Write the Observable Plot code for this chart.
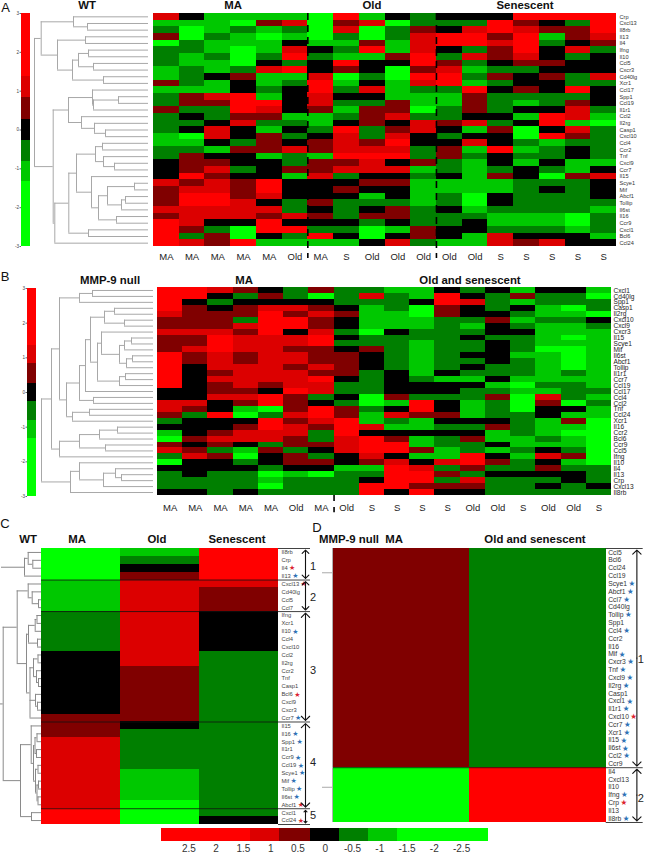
<!DOCTYPE html>
<html>
<head>
<meta charset="utf-8">
<script src="https://cdn.jsdelivr.net/npm/d3@7"></script>
<script src="https://cdn.jsdelivr.net/npm/@observablehq/plot@0.6"></script>
<style>
html,body{margin:0;padding:0;background:#fff;overflow:hidden}
#page{position:relative;width:645px;height:853px;font-family:"Liberation Sans",Arial,sans-serif}
#page svg{position:absolute;overflow:visible}
.t{position:absolute;transform:translate(-50%,-50%);white-space:pre;color:#111;line-height:1}
</style>
</head>
<body>
<div id="page"></div>
<script>
// Colour levels: 3 bright red, 2 red, 1 dark red, 0 black, -1 dark green, -2 green, -3 bright green
const levelDomain = [3, 2, 1, 0, -1, -2, -3];
const levelColors = ["#ff0000", "#dc0000", "#800000", "#000000", "#007f00", "#00c800", "#00ff00"];

// Colour key: z-score breakpoints and the level of the segment below each one
const keyBreaks = [3, 1.37, 0.83, 0.27, -0.27, -0.8, -1.33, -3];
const keyLevels = [3, 2, 1, 0, -1, -2, -3];
const keyTicksAB = [3, 2, 1, 0, -1, -2, -3];
const keyTicksBottom = [2.5, 2, 1.5, 1, 0.5, 0, -0.5, -1, -1.5, -2, -2.5];

// Panel A
const aGenes = ["Crp","Cxcl13","Il8rb","Il13","Il4","Ifng","Il10","Ccl5","Cxcr3","Cd40lg","Xcr1","Ccl17","Spp1","Ccl19","Il1r1","Ccl2","Il2rg","Casp1","Cxcl10","Ccl4","Ccr2","Tnf","Cxcl9","Ccr7","Il15","Scye1","Mif","Abcf1","Tollip","Il6st","Il16","Ccr9","Cxcl1","Bcl6","Ccl24"];
const aSamples = ["MA","MA","MA","MA","MA","Old","MA","S","Old","Old","Old","Old","Old","S","S","S","S","S"];
const aLevels = [
[2,0,-2,-2,-2,-2,-3,3,-2,0,-1,0,0,0,3,3,3,3],
[-2,-2,-2,-3,1,2,-3,1,2,-3,-1,-1,-1,3,1,0,-1,3],
[-1,-3,-2,-1,-2,-1,-3,2,-3,-1,1,0,2,3,2,1,1,3],
[1,-3,-1,-2,-3,-2,-3,-1,-3,-1,2,3,3,1,3,-2,1,2],
[-3,-1,-2,-2,-2,0,-2,-2,1,-2,2,3,3,2,3,-1,0,1],
[-1,-1,-2,-3,-2,2,0,-1,3,-2,2,0,-1,1,3,0,2,-1],
[-1,-2,-1,-3,-1,3,-1,-2,-2,1,3,-1,2,1,2,0,-1,0],
[-1,-2,-2,-3,0,-1,0,3,0,0,3,1,-1,0,1,1,0,0],
[-2,-1,-2,-1,2,3,0,1,0,-3,1,2,-2,-1,-1,0,0,0],
[-2,-1,0,1,-2,-2,2,-3,-1,-3,3,3,-1,1,0,1,-1,2],
[1,-1,-2,0,-2,-1,3,-2,0,-2,2,3,-2,-1,0,0,-1,-1],
[-2,-2,-2,0,-1,0,3,-1,2,-2,-1,-1,3,0,1,0,3,0],
[-1,1,2,3,-2,0,2,0,0,-2,-2,-2,1,-1,-1,-1,-1,0],
[-1,1,1,3,3,0,2,-1,-1,1,-2,-2,1,-1,-2,-1,1,0],
[1,-1,-1,3,2,0,1,-2,1,1,-3,-1,1,-1,0,0,2,-1],
[-1,0,-1,1,1,-2,-2,-1,1,2,-1,-1,0,0,-2,3,2,-2],
[-1,-1,0,2,-1,-1,-2,0,1,0,2,1,2,-1,0,3,-2,-3],
[-1,0,2,0,-2,0,-1,3,-1,1,2,0,-2,1,-3,0,2,-1],
[-2,-3,2,0,1,-1,0,2,-1,2,0,-1,0,0,-3,3,1,-1],
[-2,-2,0,-1,1,0,1,2,1,3,0,0,2,0,-1,-2,-1,-1],
[-1,-1,-2,1,1,2,1,2,2,2,-1,1,-2,3,-2,-1,0,-1],
[-1,1,0,0,-2,-1,-2,3,3,3,-1,1,-1,0,-1,-1,0,-1],
[0,1,1,0,0,-1,1,1,2,0,1,-1,-2,0,-2,0,-2,-2],
[0,1,2,-1,0,1,1,2,2,2,-2,-1,-2,-1,0,-1,-2,0],
[0,3,1,0,0,-2,2,-1,0,0,-1,0,-2,1,0,-3,1,2],
[2,1,2,1,3,0,0,0,1,1,-2,-2,-2,-2,-1,-1,-1,0],
[1,2,2,1,3,0,0,1,0,0,-2,-2,-2,-2,-1,0,-1,0],
[1,3,3,1,2,0,0,0,-2,0,-2,-1,-3,0,-1,-1,-1,0],
[1,3,3,2,0,-1,1,-1,-1,-1,-2,-1,-3,0,-1,-1,-1,-1],
[2,2,2,2,2,-1,0,-1,0,1,-1,0,-2,-1,-1,-1,-1,-2],
[1,2,2,2,1,2,1,-1,1,1,-1,-1,-1,-2,-2,-2,-3,-1],
[3,2,0,0,3,0,0,0,-1,0,-1,-1,0,-2,-2,-2,-3,-1],
[3,1,-1,-3,3,3,-1,-1,-3,-2,1,0,0,-1,-1,-1,-2,-1],
[3,-1,1,-3,0,-1,3,0,-3,0,1,0,-2,2,0,0,0,-2],
[3,2,1,3,-2,-2,-2,-2,0,2,-1,-2,-2,2,1,2,0,0]
];
const aTree = [114,
  [107.3,
    [75, 0, [61, 1, 2]],
    [91, [63, 3, 4], [76, [70, [60, 5, 6], [55, 7, 8]], [45, 9, 10]]]],
  [95.3,
    [80, [56, 11, [55, [30, 12, 13], 14]], [67, 15, [54, 16, [43, 17, 18]]]],
    [93.7,
      [79.7,
        [72,
          [53, [46, 19, 20], [45, 21, [34, 22, 23]]],
          [57, 24, [50, [41, [14, 25, 26], [27, [23, 27, 28], 29]], [32, 30, 31]]]],
        [60, 32, 33]],
      34]]];

// Panel B
const bGenes = ["Cxcl1","Cd40lg","Spp1","Casp1","Il2rg","Cxcl10","Cxcl9","Cxcr3","Il15","Scye1","Mif","Il6st","Abcf1","Tollip","Il1r1","Ccr7","Ccl19","Ccl17","Ccl4","Ccl2","Tnf","Ccl24","Xcr1","Il16","Ccr2","Bcl6","Ccr9","Ccl5","Ifng","Il10","Il4","Il13","Crp","Cxcl13","Il8rb"];
const bSamples = ["MA","MA","MA","MA","MA","Old","MA","Old","S","S","S","S","Old","Old","S","Old","Old","S"];
const bLevels = [
[3,3,2,1,0,-1,1,-1,-1,-2,-2,0,-1,0,-2,0,0,-2],
[3,3,0,-1,1,-1,-3,-1,2,-1,-2,3,0,-1,1,-1,-1,-3],
[3,0,-1,0,0,0,0,-1,-1,-1,0,3,2,-1,-2,-1,-1,-1],
[3,1,0,1,2,2,1,0,-2,-1,-3,1,0,-1,0,-2,-3,-1],
[2,1,1,1,3,1,2,1,-2,-2,-3,1,0,0,-1,-2,-2,-3],
[1,1,1,-1,3,3,1,0,-2,-2,-2,-1,-1,1,-2,-1,-1,0],
[1,1,1,2,3,3,1,0,-2,-2,-2,-1,-2,0,-1,-2,-2,-1],
[2,2,2,1,3,0,2,-1,-3,0,-1,-1,-1,0,0,-2,-2,-2],
[1,1,3,2,2,2,3,0,-1,-1,-1,-1,0,-1,-1,-2,-3,-2],
[1,1,3,2,2,2,3,-1,-1,-1,-2,-1,-1,0,-1,-2,-2,-2],
[1,2,3,2,2,1,1,0,1,-1,-2,-1,-1,0,-1,-3,-3,-2],
[3,1,2,1,2,2,1,1,0,-1,-2,-1,0,0,-2,-2,-3,-2],
[3,1,2,1,2,2,1,1,0,-1,-2,-1,-1,0,-1,-2,-3,-2],
[3,0,2,2,2,1,2,1,0,-1,-2,-1,0,-1,-1,-2,-3,-2],
[3,0,1,2,2,2,1,1,-1,0,-2,0,-1,-1,-1,-2,-1,-2],
[3,0,2,2,2,2,3,0,-1,0,-1,-2,-2,0,-2,-2,-2,-2],
[3,0,1,2,1,2,2,-1,-1,0,0,0,0,-2,-3,-1,-1,-2],
[0,0,1,1,0,3,2,-1,-1,0,0,0,-1,-1,-2,-2,-1,-1],
[0,0,2,2,3,1,-1,0,-3,1,-1,-1,-1,1,-3,2,-1,-2],
[2,2,0,1,3,1,0,-1,-3,-2,3,0,-2,-1,-3,1,-3,-1],
[2,1,0,-2,-3,1,3,1,-1,0,3,0,-2,-1,-3,0,0,-2],
[1,-1,3,-3,-1,2,3,1,-2,2,1,1,-2,-1,-1,0,-2,-2],
[-1,0,0,0,3,1,2,3,-2,-1,-2,0,0,0,-1,-2,1,-3],
[0,0,0,1,3,2,1,3,2,-2,-2,-1,-1,1,-1,-2,-2,-3],
[-2,0,1,2,2,2,-1,3,0,0,0,0,0,-2,-1,-2,-3,-3],
[-3,1,2,2,2,1,-1,2,3,1,-2,-1,1,-2,-2,-1,-2,-3],
[1,0,1,0,-1,1,1,2,3,3,-2,-1,-1,0,-2,-2,-2,-3],
[2,1,-1,-2,1,-1,0,2,3,3,1,-2,-1,-2,-1,0,-1,-3],
[-1,2,1,-3,0,1,-1,0,2,0,-2,-2,3,0,-2,2,1,-3],
[-3,0,0,-1,0,1,1,0,1,2,0,2,3,1,-1,0,-2,-3],
[0,0,0,0,-1,0,0,-2,-2,3,2,-1,1,-1,-1,1,-1,-1],
[-1,0,-1,-1,-3,-2,-3,-1,-1,3,3,1,-1,0,0,0,0,-1],
[-1,-1,-1,-1,-2,-1,-1,-1,0,3,3,-1,2,-1,-1,-1,0,-1],
[-1,-1,-1,-1,-3,-1,-1,-1,3,3,1,1,1,-1,-1,0,-1,0],
[0,0,-1,0,-1,-1,-1,-1,3,0,3,0,0,-1,-1,-1,-1,-1]
];
const bTree = [112,
  [102,
    [94,
      [74, [61, 0, 1], 2],
      [87,
        [74,
          [68,
            [63,
              [49, [39, 3, 4], [29, 5, 6]],
              [56,
                [52, 7, [34, [29, [22, 8, 9], 10], [27, [21, 11, 12], 13]]],
                [34, [28, 14, 15], 16]]],
            17],
          [60, 18, 19]],
        [81, [64, 20, 21], 22]]],
    [94, [74, [54, [36, 23, 24], 25], [48, 26, 27]], 28]],
  [83, [74, 29, [50, [38, 30, [32, 31, 32]], 33]], 34]];

// Panel C
const cGenes = ["Il8rb","Crp","Il4","Il13","Cxcl13","Cd40lg","Ccl5","Ccl7","Ifng","Xcr1","Il10","Ccl4","Cxcl10","Ccl2","Il2rg","Ccr2","Tnf","Casp1","Bcl6","Cxcl9","Cxcr3","Ccr7","Il15","Il16","Spp1","Il1r1","Ccr9","Ccl19","Scye1","Mif","Tollip","Il6st","Abcf1","Cxcl1","Ccl24"];
const cMA = [-3,-3,-3,-3,-2,-2,-2,-2,-1,-1,-1,-1,-1,0,0,0,0,0,0,0,0,1,1,1,2,2,2,2,2,2,2,2,2,3,3];
const cOld = [-2,-1,0,1,2,2,2,2,2,2,2,2,2,2,2,1,1,1,1,1,1,1,0,-1,-1,-1,-1,-1,-2,-2,-2,-2,-3,-3,-3];
const cSenescent = [3,3,3,3,2,1,1,1,0,0,0,0,0,-1,-1,-1,-1,-1,-1,-1,-1,-1,-1,-1,-1,-1,-1,-1,-1,-1,-1,-1,-1,-1,0];
const cBlueStars = ["Il13","Il10","Ccr7","Il16","Spp1","Ccr9","Ccl19","Scye1","Mif","Tollip","Il6st"];
const cRedStars = ["Il4","Cxcl13","Bcl6","Abcf1","Ccl24"];
const cClusters = [[1,0,4],[2,4,8],[3,8,22],[4,22,33],[5,33,35]];
const cTreeTop = [17, [13.3, 0, [8.7, 1, 2]], 3];
const cTreeRest = [38.3,
  [24.3,
    [13.3, 4, [9.3, 5, [3, 6, 7]]],
    [15,
      [13, [6.3, [4.5, 8, 9], 10], [4, 11, 12]],
      [11.5, [8, [3.5, 13, 14], [5, 15, [3, 16, 17]]], [6, 18, [4, 19, 20]], 21]]],
  [21,
    [10.3, 22, [8, [6.5, [4.5, 23, 24], [5, 25, 26]], [6, [3.5, 27, 28], [4.5, [3, 29, 30], [3.5, 31, 32]]]]],
    [10, 33, 34]]];

// Panel D
const dGenes = ["Ccl5","Bcl6","Ccl24","Ccl19","Scye1","Abcf1","Ccl7","Cd40lg","Tollip","Spp1","Ccl4","Ccr2","Il16","Mif","Cxcr3","Tnf","Cxcl9","Il2rg","Casp1","Cxcl1","Il1r1","Cxcl10","Ccr7","Xcr1","Il15","Il6st","Ccl2","Ccr9","Il4","Cxcl13","Il10","Ifng","Crp","Il13","Il8rb"];
const dMA = [1,1,1,1,1,1,1,1,1,1,1,1,1,1,1,1,1,1,1,1,1,1,1,1,1,1,1,1,-3,-3,-3,-3,-3,-3,-3];
const dOldSen = [-1,-1,-1,-1,-1,-1,-1,-1,-1,-1,-1,-1,-1,-1,-1,-1,-1,-1,-1,-1,-1,-1,-1,-1,-1,-1,-1,-1,3,3,3,3,3,3,3];
const dBlueStars = ["Scye1","Abcf1","Ccl7","Tollip","Ccl4","Mif","Cxcr3","Tnf","Cxcl9","Il2rg","Cxcl1","Il1r1","Ccr7","Xcr1","Il15","Il6st","Ccl2","Ifng","Il8rb"];
const dRedStars = ["Cxcl10","Crp"];
const dClusters = [[1,0,28],[2,28,35]];
const dRails = [{stub: 3.1, from: 0, to: 28}, {stub: 30.5, from: 28, to: 35}];

const page = document.getElementById("page");
const sans = '"Liberation Sans",Arial,sans-serif';
const colorScale = {type: "ordinal", domain: levelDomain, range: levelColors};

function place(svg, left, top) {
  svg.style.left = left + "px";
  svg.style.top = top + "px";
  svg.style.background = "transparent";
  svg.style.maxWidth = "none";
  page.appendChild(svg);
}
function note(text, x, y, size, bold, color) {
  const e = document.createElement("div");
  e.className = "t";
  e.textContent = text;
  e.style.left = x + "px";
  e.style.top = y + "px";
  e.style.fontSize = size + "px";
  if (bold) e.style.fontWeight = "bold";
  if (color) e.style.color = color;
  page.appendChild(e);
}
const ctx = document.createElement("canvas").getContext("2d");
function textWidth(s, size) { ctx.font = size + "px " + sans; return ctx.measureText(s).width; }

// matrix: rows of levels. opts gives pixel box and annotation marks.
function heat(matrix, genes, o) {
  const nRow = matrix.length, nCol = matrix[0].length, colW = o.w / nCol;
  const cells = [];
  matrix.forEach((row, r) => row.forEach((v, c) => cells.push({r, c, v})));
  const marks = [
    Plot.rect(cells, {x1: d => d.c, x2: d => d.c + 1, y1: d => d.r, y2: d => d.r + 1, fill: "v", inset: 0, shapeRendering: "crispEdges"}),
    Plot.text(genes, {x: nCol, y: (d, i) => i + 0.5, text: d => d, dx: o.labelDx, textAnchor: "start", fontSize: o.labelSize, fill: o.labelColor, fontFamily: sans})
  ];
  if (o.samples) {
    marks.push(Plot.text(o.samples, {x: (d, i) => i + 0.5, y: nRow, dy: o.sampleDy, text: d => d, fontSize: 9.5, fill: "#222", fontFamily: sans}));
  }
  if (o.dashes) {
    marks.push(Plot.ruleX(o.dashes, {x: "x", y1: "y1", y2: "y2", stroke: "#000", strokeWidth: 1.6, strokeDasharray: o.dashPattern}));
  }
  if (o.blue || o.red) {
    const star = (list, color) => Plot.text(list, {
      x: d => nCol + (o.labelDx + textWidth(d, o.labelSize) + 1 + o.starSize / 2) / colW,
      y: d => genes.indexOf(d) + 0.5,
      text: () => "★", fill: color, fontSize: o.starSize, fontFamily: "DejaVu Sans"
    });
    marks.push(star(o.blue, "#2f72b5"), star(o.red, "#dc2430"));
  }
  if (o.clusters) {
    const ax = nCol + o.arrowPx / colW, lineEnd = nCol + o.lineEndPx / colW;
    const edges = o.clusters.map(d => d[1]).filter(v => v > 0);
    marks.push(Plot.ruleY(edges, {y: d => d, x1: 0, x2: lineEnd, stroke: "#111", strokeWidth: 0.8}));
    marks.push(Plot.ruleY([0, nRow], {y: d => d, x1: nCol, x2: lineEnd, stroke: "#111", strokeWidth: 0.8}));
    const half = [];
    o.clusters.forEach(([n, a, b]) => {
      const m = (a + b) / 2;
      half.push({y1: m, y2: a + 0.2}, {y1: m, y2: b - 0.2});
    });
    marks.push(Plot.arrow(half, {x1: ax, x2: ax, y1: "y1", y2: "y2", bend: 0, stroke: "#111", strokeWidth: 1.1, headAngle: 90, headLength: 8, inset: 0}));
  }
  const svg = Plot.plot({
    width: o.w + o.right, height: o.h + o.bottom,
    marginLeft: 0, marginTop: 0, marginRight: o.right, marginBottom: o.bottom,
    x: {domain: [0, nCol], axis: null},
    y: {domain: [0, nRow], reverse: true, axis: null},
    color: colorScale,
    style: {fontFamily: sans},
    marks
  });
  place(svg, o.x, o.y);
}

function treeSegments(tree) {
  const v = [], h = [];
  let rootY = 0;
  (function walk(n, isRoot) {
    if (typeof n === "number") return {y: n + 0.5, h: 0};
    const [height, ...kids] = n;
    const ps = kids.map(k => walk(k, false));
    ps.forEach(p => h.push({x1: height, x2: p.h, y: p.y}));
    const a = ps[0].y, b = ps[ps.length - 1].y;
    v.push({x: height, y1: a, y2: b});
    if (isRoot) rootY = (a + b) / 2;
    return {y: (a + b) / 2, h: height};
  })(tree, true);
  return {v, h, rootY, rootH: tree[0]};
}

function dendro(trees, o) {
  const v = [], h = [];
  trees.forEach(([t, stem]) => {
    const s = treeSegments(t);
    v.push(...s.v); h.push(...s.h);
    if (stem) h.push({x1: stem, x2: s.rootH, y: s.rootY});
  });
  const svg = Plot.plot({
    width: o.w, height: o.h, margin: 0,
    x: {domain: [o.max, 0], axis: null},
    y: {domain: [0, 35], reverse: true, axis: null},
    style: {fontFamily: sans},
    marks: [
      Plot.ruleX(v, {x: "x", y1: "y1", y2: "y2", stroke: o.stroke, strokeWidth: 1}),
      Plot.ruleY(h, {y: "y", x1: "x1", x2: "x2", stroke: o.stroke, strokeWidth: 1})
    ]
  });
  place(svg, o.x, o.y);
}

function keySegments() {
  return keyLevels.map((lv, i) => ({lv, hi: keyBreaks[i], lo: keyBreaks[i + 1]}));
}
function verticalKey(x, y, h) {
  const svg = Plot.plot({
    width: 24, height: h, marginLeft: 15, marginRight: 0, marginTop: 0, marginBottom: 0,
    y: {domain: [-3, 3], axis: null},
    x: {axis: null},
    color: colorScale,
    style: {fontFamily: sans},
    marks: [
      Plot.rect(keySegments(), {y1: "lo", y2: "hi", fill: "lv", shapeRendering: "crispEdges"}),
      Plot.axisY({ticks: keyTicksAB, tickSize: 1.5, tickPadding: 1, fontSize: 4.6, tickFormat: d => String(d), stroke: "#666", fill: "#444", label: null})
    ]
  });
  place(svg, x - 15, y);
}

// --- Panel A ---
verticalKey(20.7, 13, 233);
dendro([[aTree, 0]], {x: 34, y: 13, w: 114, h: 233, max: 114, stroke: "#a8a8a8"});
heat(aLevels, aGenes, {
  x: 153, y: 13, w: 463, h: 233, right: 29, bottom: 20, labelDx: 3, labelSize: 5.6, labelColor: "#333",
  samples: aSamples, sampleDy: 10,
  dashes: [{x: 6, y1: 0, y2: 36.8}, {x: 11, y1: 0, y2: 36.8}], dashPattern: "7 5"
});
note("A", 5.5, 7, 13);
note("WT", 87, 5.5, 11.4, true);
note("MA", 233, 5.5, 11.4, true);
note("Old", 372, 5.5, 11.4, true);
note("Senescent", 525, 5.5, 11.4, true);

// --- Panel B ---
verticalKey(27.3, 287.5, 208);
dendro([[bTree, 0]], {x: 40.7, y: 287, w: 112, h: 208, max: 112, stroke: "#a8a8a8"});
heat(bLevels, bGenes, {
  x: 157, y: 287, w: 454, h: 208, right: 34, bottom: 20, labelDx: 2, labelSize: 6.6, labelColor: "#222",
  samples: bSamples, sampleDy: 12.5,
  dashes: [{x: 7, y1: 35, y2: 37.9}], dashPattern: "6 6"
});
note("B", 5, 276, 13);
note("MMP-9 null", 110, 281, 11.4, true);
note("MA", 244, 281, 11.4, true);
note("Old and senescent", 470, 281, 11.4, true);

// --- Panel C ---
dendro([[cTreeTop, 40], [cTreeRest, 41]], {x: 0, y: 548, w: 41, h: 276, max: 41, stroke: "#8a8a8a"});
heat(cGenes.map((g, i) => [cMA[i], cOld[i], cSenescent[i]]), cGenes, {
  x: 41, y: 548, w: 237, h: 276, right: 40, bottom: 2, labelDx: 3, labelSize: 5.8, labelColor: "#444",
  blue: cBlueStars, red: cRedStars, starSize: 7,
  clusters: cClusters, arrowPx: 27, lineEndPx: 32
});
note("C", 5, 523, 13);
note("WT", 28, 540, 11.4, true);
note("MA", 77, 540, 11.4, true);
note("Old", 157, 540, 11.4, true);
note("Senescent", 237, 540, 11.4, true);
cClusters.forEach(([n, a, b], i) => note(String(n), 313, [566, 597, 670, 762, 815][i], 11, false, "#222"));

// --- Panel D ---
{
  const svg = Plot.plot({
    width: 12, height: 274, margin: 0,
    x: {domain: [10, 0], axis: null},
    y: {domain: [0, 35], reverse: true, axis: null},
    marks: [
      Plot.ruleX(dRails, {x: 1.6, y1: "from", y2: "to", stroke: "#aaa", strokeWidth: 1}),
      Plot.ruleY(dRails, {y: "stub", x1: 10, x2: 1.6, stroke: "#aaa", strokeWidth: 1})
    ]
  });
  place(svg, 321.5, 548.3);
}
heat(dGenes.map((g, i) => [dMA[i], dOldSen[i]]), dGenes, {
  x: 333.3, y: 548.3, w: 272.7, h: 274, right: 39, bottom: 2, labelDx: 2, labelSize: 6.8, labelColor: "#333",
  blue: dBlueStars, red: dRedStars, starSize: 7.5,
  clusters: dClusters, arrowPx: 30.7, lineEndPx: 37
});
note("D", 317, 527, 13);
note("MMP-9 null  MA", 361, 540, 11.4, true);
note("Old and senescent", 535, 540, 11.4, true);
note("1", 640.7, 659, 11, false, "#222");
note("2", 640.7, 798, 11, false, "#222");

// --- Bottom colour key ---
{
  const svg = Plot.plot({
    width: 324, height: 25, marginLeft: 0, marginRight: 0, marginTop: 0, marginBottom: 12,
    x: {domain: [3.02, -2.92], axis: null},
    color: colorScale,
    style: {fontFamily: sans},
    marks: [
      Plot.rect(keySegments(), {x1: d => Math.min(d.hi, 3.02), x2: "lo", fill: "lv", shapeRendering: "crispEdges"}),
      Plot.axisX({ticks: keyTicksBottom, tickSize: 0, tickPadding: 3, fontSize: 10, tickFormat: d => String(d), fill: "#333", label: null})
    ]
  });
  place(svg, 160, 828);
}
</script>
</body>
</html>
